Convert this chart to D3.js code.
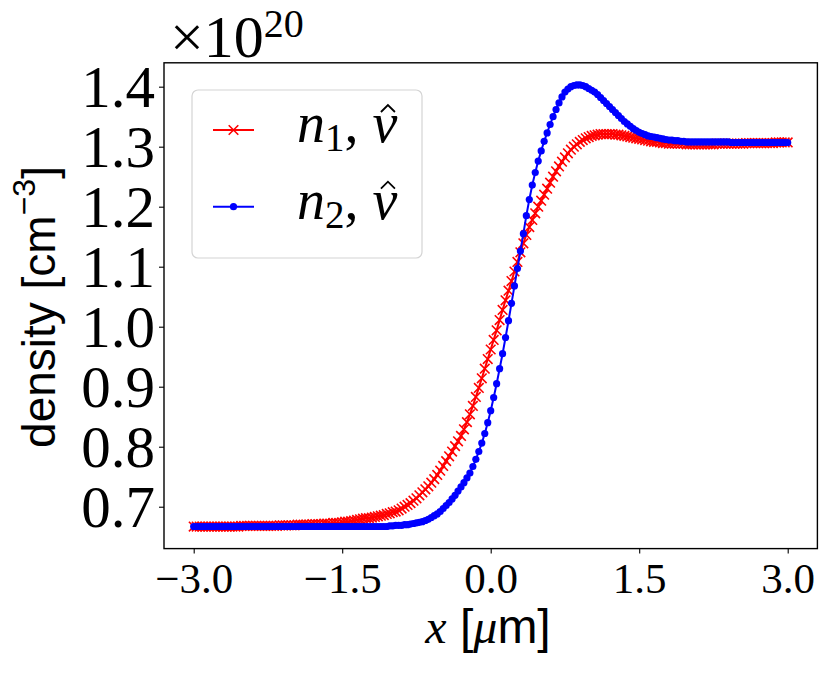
<!DOCTYPE html>
<html>
<head>
<meta charset="utf-8">
<script src="https://cdn.jsdelivr.net/npm/d3@7"></script>
<style>
html,body{margin:0;padding:0;background:#fff;}
svg{display:block;}
</style>
</head>
<body>
<svg id="chart" width="831" height="673"></svg>
<script>
// ---- data ----
const xStart = -3.0;
const xStep = 0.03;
const n1Values = [
 .667,.667,.667,.667,.667,.667,.667,.667,.667,.667,
 .667,.667,.667,.667,.667,.667,.668,.668,.668,.668,
 .668,.668,.668,.668,.668,.668,.668,.668,.668,.669,
 .669,.669,.669,.669,.669,.670,.670,.670,.670,.670,
 .671,.671,.671,.671,.672,.672,.672,.673,.673,.673,
 .674,.675,.675,.676,.677,.678,.679,.680,.681,.681,
 .682,.683,.684,.685,.686,.688,.689,.691,.692,.694,
 .697,.700,.703,.706,.710,.714,.719,.724,.729,.734,
 .740,.746,.753,.760,.768,.776,.784,.792,.801,.809,
 .818,.829,.841,.854,.868,.883,.898,.914,.930,.946,
 .962,.978,.994,1.011,1.028,1.044,1.060,1.076,1.092,1.108,
 1.124,1.139,1.153,1.166,1.178,1.189,1.200,1.210,1.220,1.230,
 1.240,1.250,1.259,1.267,1.275,1.282,1.289,1.295,1.300,1.304,
 1.308,1.311,1.314,1.316,1.318,1.319,1.320,1.321,1.321,1.321,
 1.321,1.321,1.320,1.320,1.319,1.318,1.317,1.316,1.315,1.314,
 1.313,1.312,1.311,1.310,1.309,1.308,1.308,1.307,1.306,1.306,
 1.305,1.305,1.305,1.305,1.305,1.305,1.304,1.304,1.304,1.304,
 1.304,1.304,1.304,1.304,1.304,1.304,1.305,1.305,1.305,1.305,
 1.305,1.305,1.305,1.305,1.305,1.305,1.306,1.306,1.306,1.306,
 1.306,1.306,1.306,1.306,1.306,1.306,1.307,1.307,1.307,1.307,
 1.307
];
const n2Values = [
 .667,.667,.667,.667,.667,.667,.667,.667,.667,.667,
 .667,.667,.667,.667,.667,.667,.667,.667,.667,.667,
 .667,.667,.667,.667,.667,.667,.667,.667,.667,.667,
 .667,.667,.667,.667,.667,.667,.667,.667,.667,.667,
 .667,.667,.667,.667,.667,.667,.667,.667,.667,.667,
 .667,.667,.667,.667,.667,.667,.667,.667,.667,.667,
 .667,.667,.667,.667,.667,.667,.668,.668,.669,.669,
 .669,.670,.670,.671,.672,.673,.674,.675,.677,.679,
 .682,.685,.688,.692,.697,.702,.707,.713,.719,.726,
 .733,.740,.748,.756,.767,.779,.792,.806,.822,.840,
 .860,.882,.905,.930,.955,.982,1.010,1.039,1.068,1.097,
 1.126,1.155,1.185,1.212,1.236,1.257,1.276,1.293,1.309,1.323,
 1.337,1.350,1.362,1.373,1.383,1.391,1.396,1.400,1.402,1.403,
 1.403,1.402,1.400,1.397,1.394,1.391,1.387,1.382,1.377,1.372,
 1.367,1.362,1.357,1.352,1.347,1.342,1.338,1.334,1.330,1.327,
 1.324,1.322,1.320,1.318,1.317,1.316,1.315,1.314,1.313,1.312,
 1.311,1.311,1.310,1.310,1.309,1.309,1.308,1.308,1.308,1.308,
 1.308,1.308,1.308,1.308,1.308,1.308,1.308,1.308,1.308,1.308,
 1.308,1.307,1.307,1.307,1.307,1.307,1.307,1.307,1.307,1.307,
 1.307,1.307,1.307,1.307,1.307,1.307,1.307,1.307,1.307,1.307,
 1.307
];
const xTicks = [-3.0, -1.5, 0.0, 1.5, 3.0];
const xTickLabels = ["\u22123.0", "\u22121.5", "0.0", "1.5", "3.0"];
const yTicks = [0.7, 0.8, 0.9, 1.0, 1.1, 1.2, 1.3, 1.4];
const yTickLabels = ["0.7", "0.8", "0.9", "1.0", "1.1", "1.2", "1.3", "1.4"];
const xDomain = [-3.3, 3.3];
const yDomain = [0.6302, 1.4398];

// ---- drawing ----
const svg = d3.select("#chart");
const plot = {left: 164, right: 817.4, top: 62.8, bottom: 548.6};
const x = d3.scaleLinear().domain(xDomain).range([plot.left, plot.right]);
const y = d3.scaleLinear().domain(yDomain).range([plot.bottom, plot.top]);

const serif = "'Liberation Serif', 'DejaVu Serif', serif";
const sans = "'Liberation Sans', 'DejaVu Sans', sans-serif";

const series1 = n1Values.map((v, i) => ({x: xStart + xStep * i, y: v}));
const series2 = n2Values.map((v, i) => ({x: xStart + xStep * i, y: v}));

const line = d3.line().x(d => x(d.x)).y(d => y(d.y));
const red = "#ff0000", blue = "#0000ff";
const xs = 4.8;
const xMarkPath = `M${-xs},${-xs}L${xs},${xs}M${-xs},${xs}L${xs},${-xs}`;

const g = svg.append("g");

// red series
g.append("path").datum(series1).attr("d", line)
  .attr("fill", "none").attr("stroke", red).attr("stroke-width", 2);
g.append("g").selectAll("path").data(series1).join("path")
  .attr("transform", d => `translate(${x(d.x)},${y(d.y)})`)
  .attr("d", xMarkPath).attr("stroke", red).attr("stroke-width", 1.6).attr("fill", "none");

// blue series
g.append("path").datum(series2).attr("d", line)
  .attr("fill", "none").attr("stroke", blue).attr("stroke-width", 2);
g.append("g").selectAll("circle").data(series2).join("circle")
  .attr("cx", d => x(d.x)).attr("cy", d => y(d.y)).attr("r", 3.6)
  .attr("fill", blue);

// axes
const xAxis = d3.axisBottom(x).tickValues(xTicks).tickFormat((d, i) => xTickLabels[i])
  .tickSize(5).tickPadding(8);
const yAxis = d3.axisLeft(y).tickValues(yTicks).tickFormat((d, i) => yTickLabels[i])
  .tickSize(5).tickPadding(4);

const gx = svg.append("g").attr("transform", `translate(0,${plot.bottom})`).call(xAxis);
gx.select(".domain").remove();
gx.selectAll(".tick line").attr("stroke", "#000").attr("stroke-width", 1.1);
gx.selectAll(".tick text").attr("font-family", serif).attr("font-size", 43)
  .attr("fill", "#000").attr("dy", "0.72em");

const gy = svg.append("g").attr("transform", `translate(${plot.left},0)`).call(yAxis);
gy.select(".domain").remove();
gy.selectAll(".tick line").attr("stroke", "#000").attr("stroke-width", 1.1);
gy.selectAll(".tick text").attr("font-family", serif).attr("font-size", 59)
  .attr("fill", "#000").attr("dy", "0.34em");

// frame
svg.append("rect").attr("x", plot.left).attr("y", plot.top)
  .attr("width", plot.right - plot.left).attr("height", plot.bottom - plot.top)
  .attr("fill", "none").attr("stroke", "#000").attr("stroke-width", 1.4);

// offset text ×10^20
const off = svg.append("text").attr("x", 170).attr("y", 57)
  .attr("font-family", serif).attr("font-size", 60).attr("fill", "#000");
off.append("tspan").text("\u00d710");
off.append("tspan").attr("font-size", 40).attr("dy", -20).text("20");

// y label
const yl = svg.append("text").attr("transform", "translate(55,307) rotate(-90)")
  .attr("text-anchor", "middle").attr("font-family", sans).attr("font-size", 46).attr("fill", "#000");
yl.append("tspan").text("density [cm");
yl.append("tspan").attr("font-size", 32).attr("dy", -20).text("\u22123");
yl.append("tspan").attr("dy", 20).text("]");

// x label
const xl = svg.append("text").attr("x", 488).attr("y", 643)
  .attr("text-anchor", "middle").attr("font-size", 48).attr("fill", "#000");
xl.append("tspan").attr("font-family", serif).attr("font-style", "italic").text("x");
xl.append("tspan").attr("font-family", sans).text(" [");
xl.append("tspan").attr("font-family", serif).attr("font-style", "italic").text("\u03bc");
xl.append("tspan").attr("font-family", sans).text("m]");

// legend
const lg = svg.append("g");
lg.append("rect").attr("x", 192).attr("y", 90).attr("width", 230).attr("height", 168)
  .attr("rx", 6).attr("fill", "#fff").attr("fill-opacity", 0.8)
  .attr("stroke", "#d4d4d4").attr("stroke-width", 1.2);
const legendItems = [
  {color: red, sub: "1", marker: "x", ly: 130},
  {color: blue, sub: "2", marker: "o", ly: 206.7}
];
legendItems.forEach(it => {
  lg.append("line").attr("x1", 213).attr("x2", 254).attr("y1", it.ly).attr("y2", it.ly)
    .attr("stroke", it.color).attr("stroke-width", 2);
  if (it.marker === "x") {
    lg.append("path").attr("transform", `translate(233.5,${it.ly})`).attr("d", xMarkPath)
      .attr("stroke", it.color).attr("stroke-width", 1.6);
  } else {
    lg.append("circle").attr("cx", 233.5).attr("cy", it.ly).attr("r", 3.6).attr("fill", it.color);
  }
  const base = it.ly + 12;
  const t = lg.append("text").attr("x", 297).attr("y", base)
    .attr("font-family", serif).attr("font-size", 56).attr("fill", "#000");
  t.append("tspan").attr("font-style", "italic").text("n");
  t.append("tspan").attr("font-size", 39).attr("dy", 9).text(it.sub);
  t.append("tspan").attr("dy", -9).text(", ");
  t.append("tspan").attr("font-style", "italic").text("\u03bd");
  // hat accent over nu
  const node = t.node();
  const nChars = node.getNumberOfChars();
  const s = node.getStartPositionOfChar(nChars - 1).x;
  const e = node.getEndPositionOfChar(nChars - 1).x;
  const cx = (s + e) / 2 + 3;
  lg.append("path")
    .attr("d", `M${cx - 7},${base - 30}L${cx},${base - 37}L${cx + 7},${base - 30}`)
    .attr("fill", "none").attr("stroke", "#000").attr("stroke-width", 1.8)
    .attr("stroke-linejoin", "miter");
});
</script>
</body>
</html>
